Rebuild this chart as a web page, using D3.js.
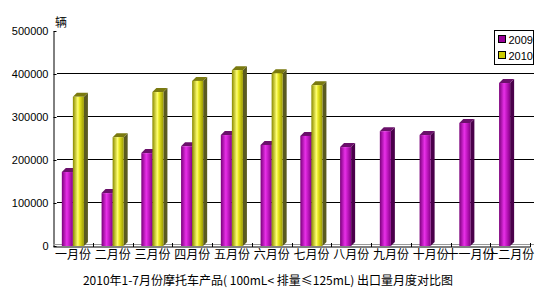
<!DOCTYPE html>
<html>
<head>
<meta charset="utf-8">
<script src="https://cdn.jsdelivr.net/npm/d3@7"></script>
<style>
body { margin: 0; background: #fff; }
svg { display: block; }
</style>
</head>
<body>
<div id="vis"></div>
<script>
var w = 547, h = 297;

// months on the x axis
var months = ["一月份", "二月份", "三月份", "四月份", "五月份", "六月份",
              "七月份", "八月份", "九月份", "十月份", "十一月份", "十二月份"];
var series = ["2009", "2010"];
// exports per month (2010 only Jan-Jul)
var values2009 = [172000, 123000, 216000, 232000, 258000, 235000, 256000, 230000, 267000, 258000, 286000, 379000];
var values2010 = [347000, 253000, 358000, 384000, 409000, 402000, 374000];
var yTicks = [0, 100000, 200000, 300000, 400000, 500000];
var title = "2010年1-7月份摩托车产品( 100mL< 排量≤125mL) 出口量月度对比图";

var left = 53, right = 530, topY = 31, bottom = 246;
var depth = 4;

var svg = d3.select("#vis").append("svg")
    .attr("width", w)
    .attr("height", h);

var xScale = d3.scaleBand()
    .domain(months)
    .range([left, right]);

var subScale = d3.scaleBand()
    .domain(series)
    .range([0, xScale.bandwidth()])
    .paddingInner(0)
    .paddingOuter(0.8);

var yScale = d3.scaleLinear()
    .domain([0, 500000])
    .range([bottom, topY]);

// gradients for the cylinder look
var defs = svg.append("defs");
function grad(id, stops) {
  var g = defs.append("linearGradient").attr("id", id)
      .attr("x1", "0%").attr("x2", "100%").attr("y1", "0%").attr("y2", "0%");
  stops.forEach(function(s) {
    g.append("stop").attr("offset", s[0]).attr("stop-color", s[1]);
  });
}
grad("g2009", [["0%", "#7a007a"], ["45%", "#e830e8"], ["60%", "#d020d0"], ["100%", "#880088"]]);
grad("g2010", [["0%", "#8a8a00"], ["45%", "#ffff70"], ["60%", "#e8e820"], ["100%", "#9a9a00"]]);

var colors = {
  "2009": {front: "url(#g2009)", side: "#4a004a", top: "#6a106a", swatch: "#990099"},
  "2010": {front: "url(#g2010)", side: "#5a5a20", top: "#7a7a10", swatch: "#cccc00"}
};

// gridlines
svg.append("g")
  .selectAll("line")
  .data(yTicks.filter(function(d) { return d > 0 && d < 500000; }))
  .enter()
  .append("line")
  .attr("x1", left + depth)
  .attr("x2", right + depth)
  .attr("y1", function(d) { return yScale(d) - 0.5; })
  .attr("y2", function(d) { return yScale(d) - 0.5; })
  .attr("stroke", "#000");

// y axis
var yAxis = svg.append("g")
    .attr("transform", "translate(" + (left + 0.5) + ",0)")
    .call(d3.axisLeft(yScale).tickValues(yTicks).tickFormat(d3.format("d"))
          .tickSize(-3).tickPadding(5).tickSizeOuter(0));
yAxis.selectAll("text")
    .style("font-family", "'Liberation Sans', Arial, sans-serif")
    .style("font-size", "11px")
    .attr("fill", "#000");
yAxis.selectAll("line, path").attr("stroke", "#000");

// floor line
svg.append("line")
  .attr("x1", left).attr("x2", right + depth)
  .attr("y1", bottom - 1.5).attr("y2", bottom - 1.5)
  .attr("stroke", "#999");

// x axis
var xAxis = svg.append("g")
    .attr("transform", "translate(0," + (bottom + 0.5) + ")")
    .call(d3.axisBottom(xScale).tickSize(0).tickPadding(4).tickSizeOuter(0));
xAxis.select("path").attr("stroke", "#000");
xAxis.selectAll("text")
    .style("font-family", "'Noto Sans CJK SC', sans-serif")
    .style("font-size", "12px")
    .attr("fill", "#000");

// tick marks between categories
svg.append("g")
  .selectAll("line")
  .data(months.slice(1).concat(["end"]))
  .enter()
  .append("line")
  .attr("x1", function(d, i) { return Math.round(left + (i + 1) * xScale.step()) + 0.5; })
  .attr("x2", function(d, i) { return Math.round(left + (i + 1) * xScale.step()) + 0.5; })
  .attr("y1", bottom - 3)
  .attr("y2", bottom + 1)
  .attr("stroke", "#000");

// build bar data
var bars = [];
months.forEach(function(m, i) {
  bars.push({month: m, key: "2009", value: values2009[i]});
  if (i < values2010.length) bars.push({month: m, key: "2010", value: values2010[i]});
});

var bw = subScale.bandwidth();
var gBars = svg.append("g")
  .selectAll("g")
  .data(bars)
  .enter()
  .append("g");

// side face
gBars.append("path")
  .attr("d", function(d) {
    var x = xScale(d.month) + subScale(d.key) + bw, y = yScale(d.value);
    return "M" + x + "," + y + "L" + (x + depth) + "," + (y - depth) +
           "L" + (x + depth) + "," + (bottom - depth) + "L" + x + "," + bottom + "Z";
  })
  .attr("fill", function(d) { return colors[d.key].side; });

// top face
gBars.append("path")
  .attr("d", function(d) {
    var x = xScale(d.month) + subScale(d.key), y = yScale(d.value);
    return "M" + x + "," + y + "L" + (x + depth) + "," + (y - depth) +
           "L" + (x + bw + depth) + "," + (y - depth) + "L" + (x + bw) + "," + y + "Z";
  })
  .attr("fill", function(d) { return colors[d.key].top; });

// front face
gBars.append("rect")
  .attr("x", function(d) { return xScale(d.month) + subScale(d.key); })
  .attr("y", function(d) { return yScale(d.value); })
  .attr("width", bw)
  .attr("height", function(d) { return bottom - yScale(d.value); })
  .attr("fill", function(d) { return colors[d.key].front; });

// unit label
svg.append("text")
  .attr("x", 55).attr("y", 27)
  .style("font-family", "'Noto Sans CJK SC', sans-serif")
  .style("font-size", "12px")
  .text("辆");

// legend
var legend = svg.append("g").attr("transform", "translate(494.5,30.5)");
legend.append("rect")
  .attr("width", 39).attr("height", 34)
  .attr("fill", "#fff").attr("stroke", "#000");
series.forEach(function(s, i) {
  legend.append("rect")
    .attr("x", 4).attr("y", 5 + i * 16)
    .attr("width", 7).attr("height", 7)
    .attr("fill", colors[s].swatch).attr("stroke", "#000");
  legend.append("text")
    .attr("x", 14).attr("y", 13 + i * 16)
    .style("font-family", "'Liberation Sans', Arial, sans-serif")
    .style("font-size", "11px")
    .text(s);
});

// title
svg.append("text")
  .attr("x", 268).attr("y", 285)
  .attr("text-anchor", "middle")
  .style("font-family", "'Noto Sans CJK SC', sans-serif")
  .style("font-size", "12px")
  .text(title);
</script>
</body>
</html>
